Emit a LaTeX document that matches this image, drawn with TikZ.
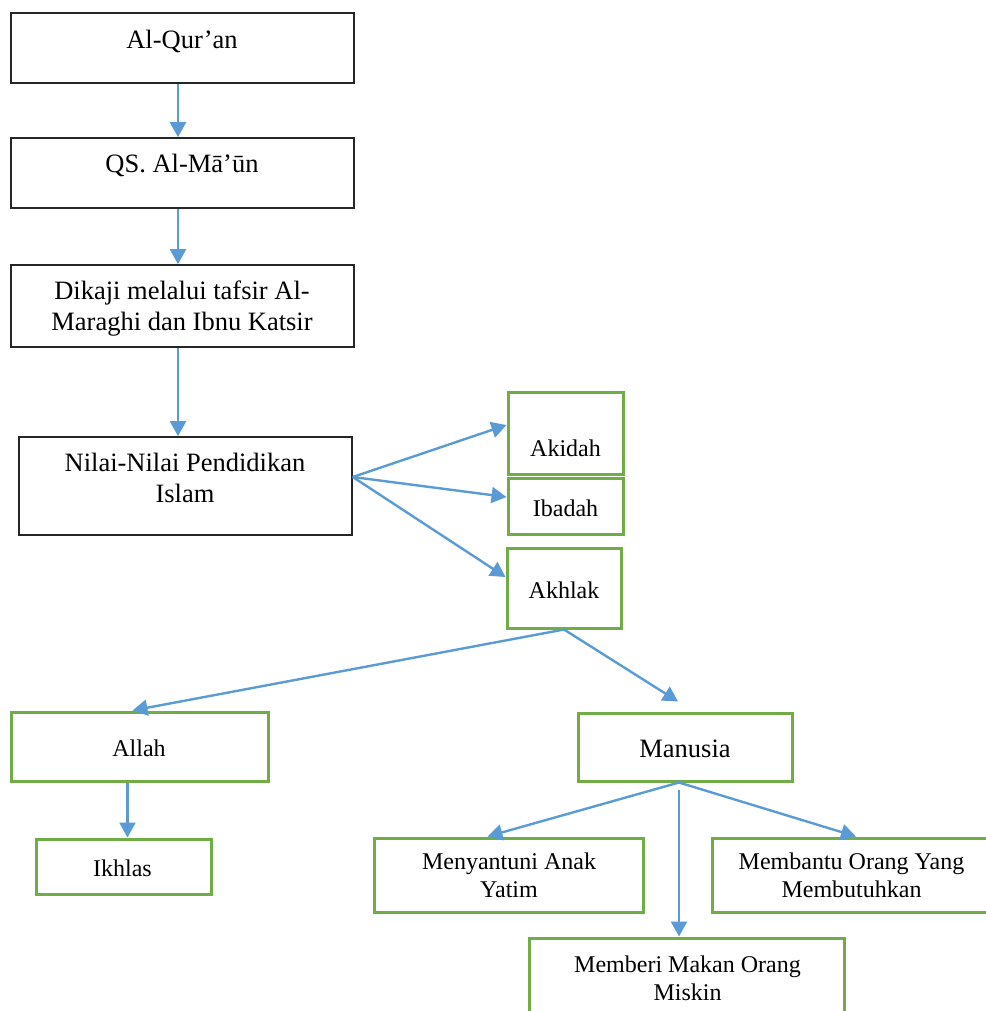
\documentclass[tikz,border=0pt]{standalone}
\usepackage{fontspec}
\setmainfont{Liberation Serif}
\usetikzlibrary{arrows.meta}
\definecolor{arrowblue}{HTML}{5B9BD5}
\definecolor{boxgreen}{HTML}{70AD47}
\tikzset{
	blackbox/.style={draw=black!85, line width=1.6pt, minimum width=343pt, minimum height=70pt, inner sep=0pt},
	greenbox/.style={draw=boxgreen, line width=3pt, inner sep=0pt},
	bigtxt/.style={font=\fontsize{26.5}{31}\selectfont, align=center, anchor=base, inner sep=0pt},
	smalltxt/.style={font=\fontsize{24}{28}\selectfont, align=center, anchor=base, inner sep=0pt},
	link/.style={draw=arrowblue, line width=2.4pt, -{Triangle[length=15pt,width=16pt]}}
}
\begin{document}
\begin{tikzpicture}[x=1pt,y=-1pt]
	\useasboundingbox (0,0) rectangle (985,1011);
	
	% boxes
	\node[blackbox] (quran) at (182.5,48) {};
	\node[blackbox] (qs) at (182.5,173) {};
	\node[blackbox, minimum height=82pt] (kaji) at (182.5,306) {};
	\node[blackbox, minimum width=333pt, minimum height=98pt] (nilai) at (185.5,486) {};
	\node[greenbox, minimum width=115pt, minimum height=82pt] (akidah) at (565.5,433) {};
	\node[greenbox, minimum width=115pt, minimum height=56pt] (ibadah) at (565.5,506) {};
	\node[greenbox, minimum width=114pt, minimum height=80pt] (akhlak) at (564,588) {};
	\node[greenbox, minimum width=257pt, minimum height=69pt] (allah) at (139.5,746.5) {};
	\node[greenbox, minimum width=175pt, minimum height=55pt] (ikhlas) at (123.5,866.5) {};
	\node[greenbox, minimum width=214pt, minimum height=68pt] (manusia) at (685,747) {};
	\node[greenbox, minimum width=269pt, minimum height=74pt] (yatim) at (508.5,875) {};
	\node[greenbox, minimum width=288pt, minimum height=74pt] (butuh) at (856,875) {};
	\node[greenbox, minimum width=315pt, minimum height=92pt] (miskin) at (686.5,984) {};
	
	% texts (two-line texts sit on their last baseline)
	\node[bigtxt] (quran-t) at (182,49) {Al-Qur’an};
	\node[bigtxt] (qs-t) at (182,173) {QS. Al-Mā’ūn};
	\node[bigtxt] (kaji-t) at (182,330) {Dikaji melalui tafsir Al-\\Maraghi dan Ibnu Katsir};
	\node[bigtxt] (nilai-t) at (185,502) {Nilai-Nilai Pendidikan\\Islam};
	\node[smalltxt] (akidah-t) at (565.5,456) {Akidah};
	\node[smalltxt] (ibadah-t) at (565.5,516) {Ibadah};
	\node[smalltxt] (akhlak-t) at (564,598) {Akhlak};
	\node[smalltxt] (allah-t) at (139,756) {Allah};
	\node[smalltxt] (ikhlas-t) at (122.5,876) {Ikhlas};
	\node[bigtxt] (manusia-t) at (685,757) {Manusia};
	\node[smalltxt] (yatim-t) at (509,897) {Menyantuni Anak\\Yatim};
	\node[smalltxt] (butuh-t) at (851.5,897) {Membantu Orang Yang\\Membutuhkan};
	\node[smalltxt] (miskin-t) at (687.5,1000) {Memberi Makan Orang\\Miskin};
	
	% arrows
	\draw[link] ([xshift=-4.5pt]quran.south) -- ([xshift=-4.5pt]qs.north);
	\draw[link] ([xshift=-4.5pt]qs.south) -- ([xshift=-4.5pt]kaji.north);
	\draw[link] ([xshift=-4.5pt]kaji.south) -- ([xshift=-7.5pt]nilai.north);
	\draw[link] ([yshift=9pt]nilai.east) -- ([yshift=8pt]akidah.west);
	\draw[link] ([yshift=9pt]nilai.east) -- ([yshift=9pt]ibadah.west);
	\draw[link] ([yshift=9pt]nilai.east) -- ([yshift=11pt]akhlak.west);
	\draw[link] (akhlak.south) -- ([xshift=-7pt]allah.north);
	\draw[link] (akhlak.south) -- ([shift={(-7pt,10pt)}]manusia.north);
	\draw[link] ([xshift=-12pt]allah.south) -- ([xshift=4pt]ikhlas.north);
	\draw[link] ([xshift=-6pt]manusia.south) -- ([xshift=-21pt]yatim.north);
	\draw[link] ([xshift=-6pt]manusia.south) -- (butuh.north);
	\draw[link] ([shift={(-6pt,-7pt)}]manusia.south) -- ([xshift=-7.5pt]miskin.north);
\end{tikzpicture}
\end{document}
